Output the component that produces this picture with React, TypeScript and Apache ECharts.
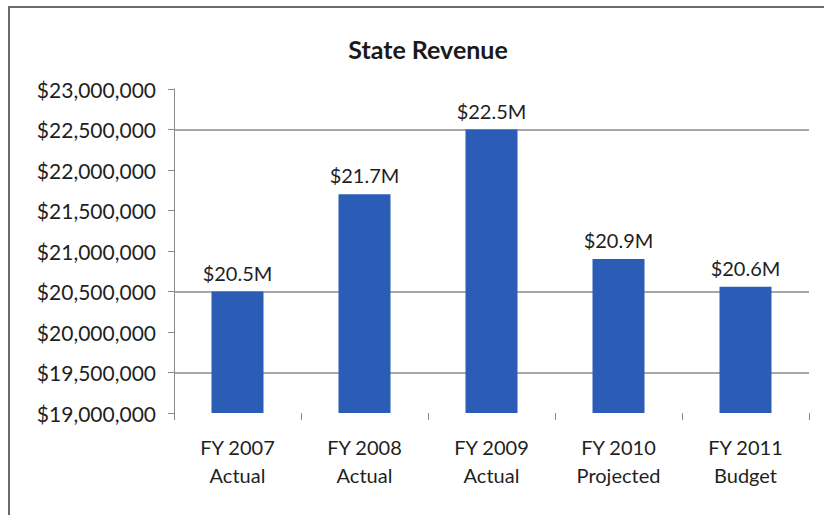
import React, { useEffect, useRef } from "react";
import * as echarts from "echarts";

// Fiscal years shown on the category axis
const categories = [
  "FY 2007\nActual",
  "FY 2008\nActual",
  "FY 2009\nActual",
  "FY 2010\nProjected",
  "FY 2011\nBudget",
];

// Revenue in dollars per fiscal year
const revenue = [20500000, 21700000, 22500000, 20900000, 20560000];

// Value axis range
const axisMin = 19000000;
const axisMax = 23000000;
const axisStep = 500000;

// Gridline colours per tick (cycled by ECharts from the bottom up)
const gridColors = [
  "rgba(0,0,0,0)",
  "#8a8a8a",
  "rgba(0,0,0,0)",
  "#8a8a8a",
  "rgba(0,0,0,0)",
  "rgba(0,0,0,0)",
  "rgba(0,0,0,0)",
  "#8a8a8a",
  "rgba(0,0,0,0)",
];

const FONT = "Lato, 'Open Sans', sans-serif";

const money = (v: number) => "$" + Math.round(v).toLocaleString("en-US");
const millions = (v: number) => "$" + (v / 1e6).toFixed(1) + "M";

export default function App() {
  const ref = useRef<HTMLDivElement>(null);

  useEffect(() => {
    document.body.style.margin = "0";
    const chart = echarts.init(ref.current!, null, { renderer: "svg" });
    chart.setOption({
      animation: false,
      backgroundColor: "#ffffff",
      title: {
        text: "State Revenue",
        left: 423,
        top: 31,
        textAlign: "center",
        textStyle: { fontFamily: FONT, fontSize: 25, fontWeight: "bold", color: "#1a1a1a" },
      },
      graphic: [
        {
          type: "rect",
          shape: { x: 9, y: 7, width: 840, height: 540 },
          style: { fill: "none", stroke: "#6a6a6a", lineWidth: 2 },
          silent: true,
        },
      ],
      grid: { left: 174, right: 15, top: 89, bottom: 102 },
      xAxis: {
        type: "category",
        data: categories,
        axisLine: { show: false },
        axisTick: {
          show: true,
          alignWithLabel: false,
          length: 7,
          lineStyle: { color: "#8a8a8a" },
        },
        axisLabel: {
          fontFamily: FONT,
          fontSize: 20,
          lineHeight: 28,
          color: "#1f1f1f",
          margin: 20,
        },
      },
      yAxis: {
        type: "value",
        min: axisMin,
        max: axisMax,
        interval: axisStep,
        axisLine: { show: true, lineStyle: { color: "#8a8a8a" } },
        axisTick: { show: true, length: 6, lineStyle: { color: "#8a8a8a" } },
        splitLine: { show: true, lineStyle: { color: gridColors, width: 1.5 } },
        axisLabel: {
          fontFamily: FONT,
          fontSize: 21,
          color: "#1f1f1f",
          margin: 18,
          formatter: (v: number) => money(v),
        },
      },
      series: [
        {
          type: "bar",
          data: revenue,
          barWidth: 52,
          itemStyle: { color: "#2b5db6" },
          label: {
            show: true,
            position: "top",
            distance: 9,
            fontFamily: FONT,
            fontSize: 20,
            color: "#1f1f1f",
            formatter: (p: any) => millions(p.value),
          },
        },
      ],
    });
    return () => chart.dispose();
  }, []);

  return <div ref={ref} style={{ width: 824, height: 515 }} />;
}
